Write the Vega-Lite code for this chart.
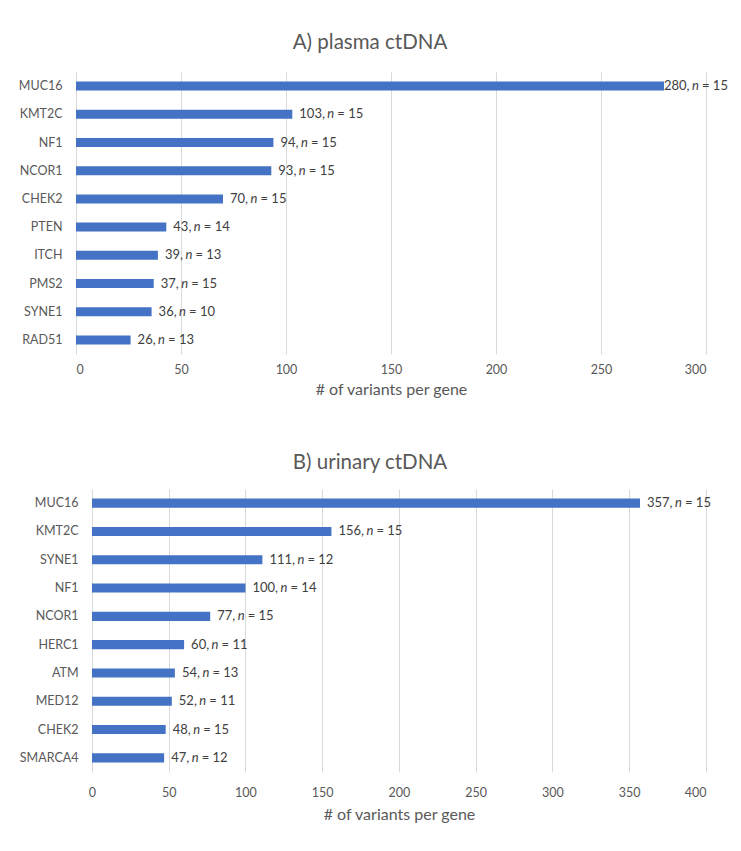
{
  "$schema": "https://vega.github.io/schema/vega-lite/v6.json",
  "padding": {"left": 5, "top": 32, "right": 0, "bottom": 0},
  "autosize": {"type": "pad"},
  "background": "white",
  "config": {
    "view": {"stroke": null},
    "font": "Lato",
    "axis": {"labelColor": "#595959", "titleColor": "#595959", "labelFont": "Lato", "titleFont": "Lato", "labelFontSize": 12.5, "titleFontSize": 16, "titleFontWeight": "normal", "domain": false, "ticks": false, "gridColor": "#d9d9d9"},
    "title": {"font": "Lato", "fontSize": 20.5, "fontWeight": "normal", "color": "#595959"},
    "text": {"font": "Lato", "fontSize": 13, "color": "#404040", "align": "left", "baseline": "middle"}
  },
  "datasets": {
    "plasma": [
      {"gene": "MUC16", "value": 280, "n": 15},
      {"gene": "KMT2C", "value": 103, "n": 15},
      {"gene": "NF1", "value": 94, "n": 15},
      {"gene": "NCOR1", "value": 93, "n": 15},
      {"gene": "CHEK2", "value": 70, "n": 15},
      {"gene": "PTEN", "value": 43, "n": 14},
      {"gene": "ITCH", "value": 39, "n": 13},
      {"gene": "PMS2", "value": 37, "n": 15},
      {"gene": "SYNE1", "value": 36, "n": 10},
      {"gene": "RAD51", "value": 26, "n": 13}
    ],
    "urine": [
      {"gene": "MUC16", "value": 357, "n": 15},
      {"gene": "KMT2C", "value": 156, "n": 15},
      {"gene": "SYNE1", "value": 111, "n": 12},
      {"gene": "NF1", "value": 100, "n": 14},
      {"gene": "NCOR1", "value": 77, "n": 15},
      {"gene": "HERC1", "value": 60, "n": 11},
      {"gene": "ATM", "value": 54, "n": 13},
      {"gene": "MED12", "value": 52, "n": 11},
      {"gene": "CHEK2", "value": 48, "n": 15},
      {"gene": "SMARCA4", "value": 47, "n": 12}
    ]
  },
  "spacing": 54,
  "vconcat": [
    {
      "width": 630,
      "height": 282,
      "title": {"text": "A) plasma ctDNA", "anchor": "middle", "dx": -21, "offset": 3, "baseline": "alphabetic"},
      "data": {"name": "plasma"},
      "transform": [
        {"calculate": "datum.value + ','", "as": "t1"},
        {"calculate": "'= ' + datum.n", "as": "t3"}
      ],
      "encoding": {
        "y": {"field": "gene", "type": "nominal", "sort": null, "scale": {"paddingInner": 0.68, "paddingOuter": 0.34}, "axis": {"title": null, "labelPadding": 14, "minExtent": 71, "maxExtent": 71, "grid": false}},
        "x": {"field": "value", "type": "quantitative", "scale": {"domain": [0, 300], "nice": false}, "axis": {"title": "# of variants per gene", "values": [0, 50, 100, 150, 200, 250, 300], "labelPadding": 9, "titlePadding": 6}}
      },
      "layer": [
        {"mark": {"type": "bar", "color": "#4472C4"}},
        {
          "transform": [{"filter": "datum.value >= 200"}],
          "layer": [
            {"mark": {"type": "text", "dx": 0}, "encoding": {"text": {"field": "t1"}}},
            {"mark": {"type": "text", "text": "n", "fontStyle": "italic", "dx": 28}},
            {"mark": {"type": "text", "dx": 38}, "encoding": {"text": {"field": "t3"}}}
          ]
        },
        {
          "transform": [{"filter": "datum.value >= 100 && datum.value < 200"}],
          "layer": [
            {"mark": {"type": "text", "dx": 7}, "encoding": {"text": {"field": "t1"}}},
            {"mark": {"type": "text", "text": "n", "fontStyle": "italic", "dx": 35}},
            {"mark": {"type": "text", "dx": 45}, "encoding": {"text": {"field": "t3"}}}
          ]
        },
        {
          "transform": [{"filter": "datum.value < 100"}],
          "layer": [
            {"mark": {"type": "text", "dx": 7}, "encoding": {"text": {"field": "t1"}}},
            {"mark": {"type": "text", "text": "n", "fontStyle": "italic", "dx": 27.5}},
            {"mark": {"type": "text", "dx": 37.5}, "encoding": {"text": {"field": "t3"}}}
          ]
        }
      ]
    },
    {
      "width": 630,
      "height": 283,
      "title": {"text": "B) urinary ctDNA", "anchor": "middle", "dx": -21, "offset": 0, "baseline": "alphabetic"},
      "data": {"name": "urine"},
      "transform": [
        {"calculate": "datum.value + ','", "as": "t1"},
        {"calculate": "'= ' + datum.n", "as": "t3"}
      ],
      "encoding": {
        "y": {"field": "gene", "type": "nominal", "sort": null, "scale": {"paddingInner": 0.68, "paddingOuter": 0.34}, "axis": {"title": null, "labelPadding": -2, "minExtent": 71, "maxExtent": 71, "grid": false}},
        "x": {"field": "value", "type": "quantitative", "scale": {"domain": [-10.42, 400], "nice": false, "zero": false}, "axis": {"title": "# of variants per gene", "values": [0, 50, 100, 150, 200, 250, 300, 350, 400], "labelPadding": 14, "titlePadding": 8, "titleX": 323}}
      },
      "layer": [
        {"mark": {"type": "bar", "color": "#4472C4"}},
        {
          "transform": [{"filter": "datum.value >= 100"}],
          "layer": [
            {"mark": {"type": "text", "dx": 7}, "encoding": {"text": {"field": "t1"}}},
            {"mark": {"type": "text", "text": "n", "fontStyle": "italic", "dx": 35}},
            {"mark": {"type": "text", "dx": 45}, "encoding": {"text": {"field": "t3"}}}
          ]
        },
        {
          "transform": [{"filter": "datum.value < 100"}],
          "layer": [
            {"mark": {"type": "text", "dx": 7}, "encoding": {"text": {"field": "t1"}}},
            {"mark": {"type": "text", "text": "n", "fontStyle": "italic", "dx": 27.5}},
            {"mark": {"type": "text", "dx": 37.5}, "encoding": {"text": {"field": "t3"}}}
          ]
        }
      ]
    }
  ]
}
